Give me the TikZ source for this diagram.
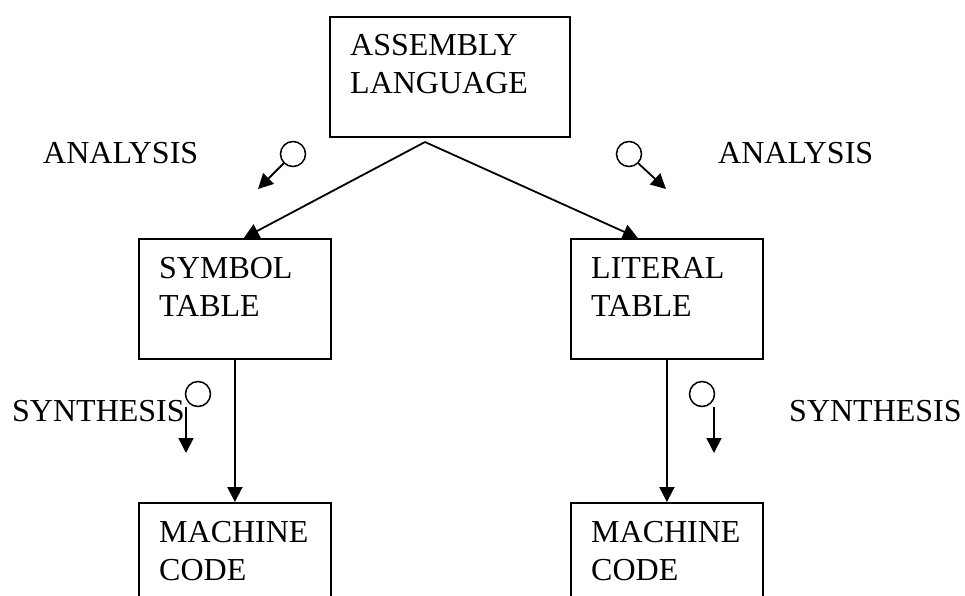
\documentclass[tikz,border=0pt]{standalone}
\usepackage{fontspec}
\setmainfont{Liberation Serif}
\usetikzlibrary{arrows.meta}
\begin{document}
\begin{tikzpicture}[x=1pt,y=-1pt,
  box/.style={draw,line width=1.8pt,rectangle,anchor=north west,inner sep=0pt},
  txt/.style={anchor=base west,inner sep=0pt,font=\fontsize{32}{38}\selectfont},
  ring/.style={draw,line width=1.5pt,circle,minimum size=25pt,inner sep=0pt},
  arr/.style={line width=1.8pt,-{Triangle[length=15pt,width=15pt]}}]
\path[use as bounding box] (0,0) rectangle (965,595);
\clip (0,0) rectangle (965,595);
% boxes
\node[box,minimum width=240pt,minimum height=120pt] (asm) at (329,16) {};
\node[box,minimum width=192pt,minimum height=120pt] (sym) at (138,238) {};
\node[box,minimum width=192pt,minimum height=120pt] (lit) at (570,238) {};
\node[box,minimum width=192pt,minimum height=130pt] (mc1) at (138,502) {};
\node[box,minimum width=192pt,minimum height=130pt] (mc2) at (570,502) {};
% box texts
\node[txt] (asmT) at (350,55) {\begin{tabular}[t]{@{}l@{}}ASSEMBLY\\LANGUAGE\end{tabular}};
\node[txt] (symT) at (159,278) {\begin{tabular}[t]{@{}l@{}}SYMBOL\\TABLE\end{tabular}};
\node[txt] (litT) at (591,278) {\begin{tabular}[t]{@{}l@{}}LITERAL\\TABLE\end{tabular}};
\node[txt] (mc1T) at (159,542) {\begin{tabular}[t]{@{}l@{}}MACHINE\\CODE\end{tabular}};
\node[txt] (mc2T) at (591,542) {\begin{tabular}[t]{@{}l@{}}MACHINE\\CODE\end{tabular}};
% side labels
\node[txt] (anL) at (43,163) {ANALYSIS};
\node[txt] (anR) at (718,163) {ANALYSIS};
\node[txt] (syL) at (12,421) {SYNTHESIS};
\node[txt] (syR) at (789,421) {SYNTHESIS};
% main connectors
\coordinate (apex) at (425,142);
\draw[arr] (apex) -- ([xshift=9pt]sym.north);
\draw[arr] (apex) -- ([xshift=-29pt]lit.north);
\draw[arr] (sym.south) -- (mc1.north);
\draw[arr] (lit.south) -- (mc2.north);
% small circles and arrows
\node[ring] (c1) at (293,154) {};
\node[ring] (c2) at (629,154) {};
\node[ring] (c3) at (198,394) {};
\node[ring] (c4) at (702,394) {};
\coordinate (e1) at (258,189);
\coordinate (e2) at (666,189);
\coordinate (s3) at (186,407);
\coordinate (e3) at (186,453);
\coordinate (s4) at (714,407);
\coordinate (e4) at (714,453);
\draw[arr] (c1.225) -- (e1);
\draw[arr] (c2.-45) -- (e2);
\draw[arr] (s3) -- (e3);
\draw[arr] (s4) -- (e4);
\end{tikzpicture}
\end{document}
